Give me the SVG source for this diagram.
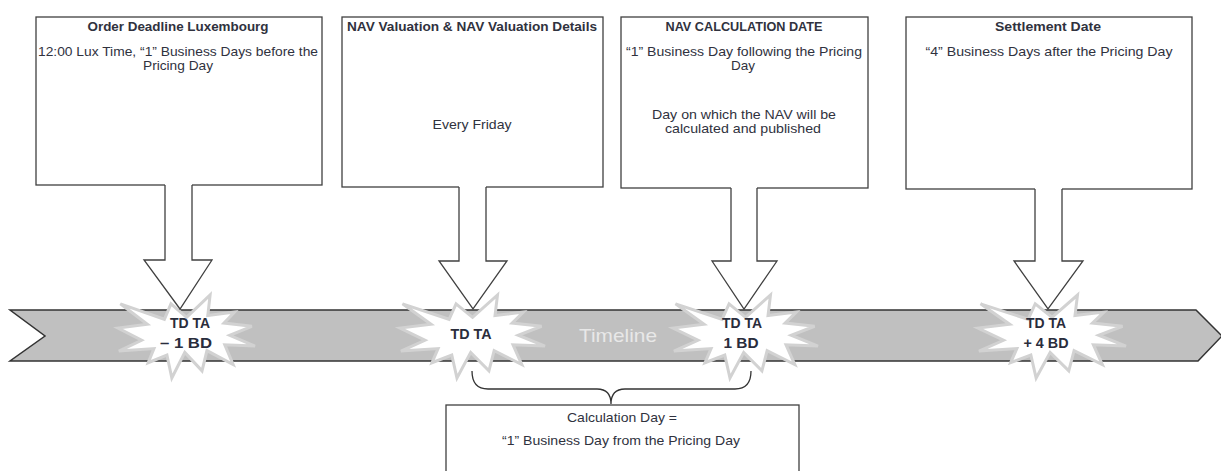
<svg xmlns="http://www.w3.org/2000/svg" xmlns:xlink="http://www.w3.org/1999/xlink" width="1221" height="471" viewBox="0 0 1221 471">
<style>
.box{fill:#fff;stroke:#404040;stroke-width:1.3}
.arr{fill:#fff;stroke:#404040;stroke-width:1.3;stroke-linejoin:miter}
.t{font-family:"Liberation Sans",Arial,sans-serif;font-size:13px;fill:#30323e;text-anchor:middle}
.tb{font-family:"Liberation Sans",Arial,sans-serif;font-size:13px;font-weight:bold;fill:#30323e;text-anchor:middle}
.burst{fill:#fff;stroke:#d2d2d2;stroke-width:3;stroke-linejoin:miter}
.bt{font-family:"Liberation Sans",Arial,sans-serif;font-size:15px;font-weight:bold;fill:#2a2d3c;text-anchor:middle}
.tl{font-family:"Liberation Sans",Arial,sans-serif;font-size:19px;fill:#e8e8e8;text-anchor:middle}
</style>
<defs>
<path id="seal" vector-effect="non-scaling-stroke" d="M10800,5800 L14522,0 L14155,5325 L18380,4457 L16702,7315 L21097,8137 L17607,10475 L21600,13290 L16837,12942 L18145,18095 L14020,14457 L13247,19737 L10532,14935 L8485,21600 L7715,15627 L4762,17617 L5667,13937 L135,14587 L3722,11775 L0,8615 L4627,7617 L370,2295 L7312,6320 L8352,2295 Z"/>
</defs>
<rect width="1221" height="471" fill="#fff"/>

<g id="timeline">
<polygon points="10,310 1196,310 1222,336 1198,361 10,361 45,336" fill="#c0c0c0" stroke="#333" stroke-width="1.5"/>
<text class="tl" x="618" y="342" textLength="78" lengthAdjust="spacingAndGlyphs">Timeline</text>
</g>

<g id="box1">
<rect class="box" x="36" y="17" width="286" height="168"/>
<text class="tb" x="178" y="31" textLength="181" lengthAdjust="spacingAndGlyphs">Order Deadline Luxembourg</text>
<text class="t" x="178" y="56" textLength="280" lengthAdjust="spacingAndGlyphs">12:00 Lux Time,  “1” Business Days before the</text>
<text class="t" x="178" y="70" textLength="70" lengthAdjust="spacingAndGlyphs">Pricing Day</text>
</g>
<g id="box2">
<rect class="box" x="342" y="17" width="261" height="170"/>
<text class="tb" x="472" y="31" textLength="250" lengthAdjust="spacingAndGlyphs">NAV Valuation &amp; NAV Valuation Details</text>
<text class="t" x="472" y="129" textLength="79" lengthAdjust="spacingAndGlyphs">Every Friday</text>
</g>
<g id="box3">
<rect class="box" x="621" y="17" width="247" height="171"/>
<text class="tb" x="744" y="31" textLength="157" lengthAdjust="spacingAndGlyphs">NAV CALCULATION DATE</text>
<text class="t" x="744" y="56" textLength="236" lengthAdjust="spacingAndGlyphs">“1” Business Day following the Pricing</text>
<text class="t" x="743" y="70" textLength="24" lengthAdjust="spacingAndGlyphs">Day</text>
<text class="t" x="744" y="119" textLength="184" lengthAdjust="spacingAndGlyphs">Day on which the NAV  will be</text>
<text class="t" x="743" y="133" textLength="156" lengthAdjust="spacingAndGlyphs">calculated and published</text>
</g>
<g id="box4">
<rect class="box" x="906" y="17" width="286" height="172"/>
<text class="tb" x="1048" y="31" textLength="106" lengthAdjust="spacingAndGlyphs">Settlement Date</text>
<text class="t" x="1049" y="56" textLength="247" lengthAdjust="spacingAndGlyphs">“4” Business Days  after the Pricing Day</text>
</g>

<g id="burst1">
<use xlink:href="#seal" class="burst" transform="translate(118,295) scale(0.006343,0.003843)"/>
<text class="bt" x="190" y="328" textLength="40" lengthAdjust="spacingAndGlyphs">TD TA</text>
<text class="bt" x="186" y="348" textLength="52" lengthAdjust="spacingAndGlyphs">– 1 BD</text>
</g>
<g id="burst2">
<use xlink:href="#seal" class="burst" transform="translate(400,295) scale(0.006713,0.003843)"/>
<text class="bt" x="471" y="339" textLength="41" lengthAdjust="spacingAndGlyphs">TD TA</text>
</g>
<g id="burst3">
<use xlink:href="#seal" class="burst" transform="translate(673,295) scale(0.006713,0.003843)"/>
<text class="bt" x="742" y="328" textLength="40" lengthAdjust="spacingAndGlyphs">TD TA</text>
<text class="bt" x="741" y="348" textLength="35" lengthAdjust="spacingAndGlyphs">1 BD</text>
</g>
<g id="burst4">
<use xlink:href="#seal" class="burst" transform="translate(978,295) scale(0.006852,0.003843)"/>
<text class="bt" x="1046" y="328" textLength="40" lengthAdjust="spacingAndGlyphs">TD TA</text>
<text class="bt" x="1046" y="348" textLength="45" lengthAdjust="spacingAndGlyphs">+ 4 BD</text>
</g>

<g id="connectors">
<polygon points="165,184 192,184 192,260 212,260 180,309 144,260 165,260" fill="#fff"/>
<path class="arr" fill="none" d="M165,185 V260 H144 L180,309 L212,260 H192 V185"/>
<polygon points="459,186 486,186 486,261 507,261 473,309 439,261 459,261" fill="#fff"/>
<path class="arr" fill="none" d="M459,187 V261 H439 L473,309 L507,261 H486 V187"/>
<polygon points="731,187 757,187 757,261 777,261 744,309 712,261 731,261" fill="#fff"/>
<path class="arr" fill="none" d="M731,188 V261 H712 L744,309 L777,261 H757 V188"/>
<polygon points="1035,188 1062,188 1062,261 1083,261 1048,309 1014,261 1035,261" fill="#fff"/>
<path class="arr" fill="none" d="M1035,189 V261 H1014 L1048,309 L1083,261 H1062 V189"/>
<path fill="none" stroke="#333" stroke-width="1.3" d="M472,371 Q472,389 488,389 H597 Q611,389 611,404 Q611,389 625,389 H735 Q751,389 751,371"/>
</g>

<g id="calcbox">
<rect class="box" x="446" y="405" width="353" height="80"/>
<text class="t" x="622" y="422" textLength="110" lengthAdjust="spacingAndGlyphs">Calculation Day =</text>
<text class="t" x="621" y="445" textLength="238" lengthAdjust="spacingAndGlyphs">“1” Business Day from the Pricing Day</text>
</g>
</svg>
